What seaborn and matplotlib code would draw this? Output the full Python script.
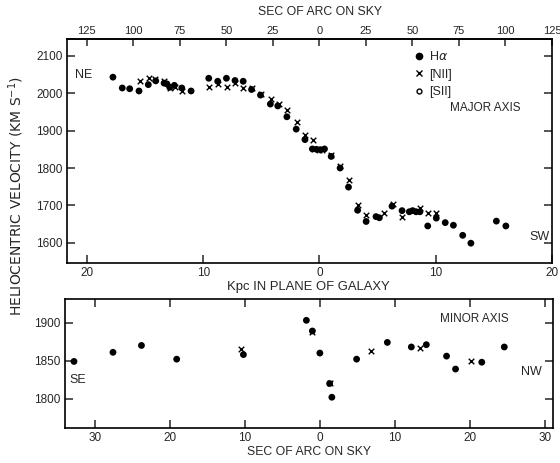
import numpy as np
import pandas as pd
import matplotlib
matplotlib.use("Agg")
import matplotlib.pyplot as plt
from matplotlib.lines import Line2D
import seaborn as sns

# major axis, position in sec of arc on sky (NE negative), velocity in km/s
maj_ha_arc = [-111, -106, -102, -97, -92, -88, -83.5, -82, -80.5, -78, -74, -69,
              -59.5, -54.7, -50, -45.4, -41, -36.5, -31.7, -26.4, -22.4, -17.5, -12.5,
              -7.8, -3.8, -1.6, 0.5, 2.7, 6.3, 11.1, 15.6, 20.5, 25.1, 30.4, 32.2, 39.0,
              44.4, 48.3, 50.1, 52.0, 54.0, 58.2, 62.8, 67.6, 72.0, 77.0, 81.4, 95.1, 100.2]
maj_ha_vel = [2043, 2014, 2012, 2006, 2023, 2033, 2027, 2025, 2016, 2021, 2014, 2006,
              2040, 2032, 2040, 2034, 2032, 2010, 1995, 1971, 1966, 1937, 1904,
              1876, 1851, 1850, 1849, 1851, 1831, 1800, 1749, 1687, 1657, 1670, 1667, 1698,
              1686, 1683, 1686, 1683, 1683, 1645, 1666, 1654, 1647, 1620, 1599, 1658, 1645]
maj_n2_arc = [-96.6, -91.6, -88.4, -83.5, -80.5, -77.8, -73.9, -59.5, -54.7, -49.9,
              -45.4, -40.9, -36.3, -31.3, -26.3, -22.0, -17.3, -12.2, -7.7, -3.2,
              -2.7, 0.0, 1.6, 6.3, 11.1, 16.1, 20.8, 25.1, 34.9, 39.3,
              44.2, 49.9, 54.0, 58.1, 62.8]
maj_n2_vel = [2034, 2042, 2038, 2033, 2014, 2017, 2005, 2016, 2025, 2016,
              2027, 2015, 2014, 1998, 1985, 1971, 1954, 1923, 1887, 1875,
              1851, 1849, 1849, 1834, 1806, 1767, 1702, 1675, 1680, 1703,
              1670, 1686, 1692, 1679, 1679]

# minor axis (SE negative)
min_ha_arc = [-32.8, -27.6, -23.8, -19.1, -10.2, -1.8, -1.0, 0.0, 1.3, 1.6,
              4.9, 9.0, 12.2, 14.2, 16.9, 18.1, 21.6, 24.6]
min_ha_vel = [1849, 1861, 1870, 1852, 1858, 1903, 1889, 1860, 1820, 1802,
              1852, 1874, 1868, 1871, 1856, 1839, 1848, 1868]
min_n2_arc = [-10.5, -1.0, 1.3, 6.8, 13.4, 20.1]
min_n2_vel = [1865, 1888, 1821, 1863, 1867, 1849]

sec_ticks = [-125, -100, -75, -50, -25, 0, 25, 50, 75, 100, 125]
kpc_ticks = [-20, -10, 0, 10, 20]
arc_per_kpc = 6.25
maj_vel_ticks = [1600, 1700, 1800, 1900, 2000, 2100]
min_sec_ticks = [-30, -20, -10, 0, 10, 20, 30]
min_vel_ticks = [1800, 1850, 1900]

maj_ha = pd.DataFrame({"arc": maj_ha_arc, "vel": maj_ha_vel})
maj_n2 = pd.DataFrame({"arc": maj_n2_arc, "vel": maj_n2_vel})
min_ha = pd.DataFrame({"arc": min_ha_arc, "vel": min_ha_vel})
min_n2 = pd.DataFrame({"arc": min_n2_arc, "vel": min_n2_vel})

sns.set_style("ticks")
plt.rcParams['font.family'] = ['Liberation Sans', 'DejaVu Sans']
plt.rcParams['axes.linewidth'] = 1.2
plt.rcParams['axes.edgecolor'] = 'black'

W, H = 560, 463
fig = plt.figure(figsize=(5.6, 4.63), dpi=100)
ax1 = fig.add_axes([67 / W, 1 - 263 / H, 485 / W, 224 / H])
ax2 = fig.add_axes([65 / W, 1 - 427.7 / H, 488 / W, 128.7 / H])

def pos(x, y):
    return x / W, 1 - y / H

dot_kw = dict(color='black', marker='o', s=24, edgecolor='none', legend=False)
x_kw = dict(color='black', marker='x', s=16, linewidth=1.0, legend=False)

# major axis panel
sns.scatterplot(data=maj_ha, x='arc', y='vel', ax=ax1, **dot_kw)
sns.scatterplot(data=maj_n2, x='arc', y='vel', ax=ax1, **x_kw)
ax1.set_xlim(-135.7, 124.5)
ax1.set_ylim(1546, 2145)
ax1.set_xlabel('')
ax1.set_ylabel('')
ax1.set_xticks([k * arc_per_kpc for k in kpc_ticks])
ax1.set_xticklabels([str(abs(k)) for k in kpc_ticks])
ax1.set_yticks(maj_vel_ticks)
ax1.set_yticklabels([str(v) for v in maj_vel_ticks])
ax1.tick_params(direction='in', length=6, width=1.1, labelsize=8.5, pad=3,
                right=True, top=False)
top = ax1.secondary_xaxis('top')
top.set_xticks(sec_ticks)
top.set_xticklabels([str(abs(s)) for s in sec_ticks])
top.tick_params(direction='in', length=5, width=1.1, labelsize=8, pad=2)

handles = [Line2D([], [], ls='', marker='o', color='black', ms=4.5),
           Line2D([], [], ls='', marker='x', color='black', ms=4, mew=1),
           Line2D([], [], ls='', marker='o', mfc='white', mec='black', ms=3.5, mew=1)]
ax1.legend(handles, ['H$\\alpha$', '[NII]', '[SII]'], loc='upper left',
           bbox_to_anchor=((414 - 67) / 485, (263 - 50) / 224), frameon=False,
           handlelength=0.8, handletextpad=0.4, labelspacing=0.45, fontsize=9,
           borderaxespad=0, borderpad=0)

# minor axis panel
sns.scatterplot(data=min_ha, x='arc', y='vel', ax=ax2, **dot_kw)
sns.scatterplot(data=min_n2, x='arc', y='vel', ax=ax2, **x_kw)
ax2.set_xlim(-34, 31.1)
ax2.set_ylim(1762, 1931)
ax2.set_xlabel('')
ax2.set_ylabel('')
ax2.set_xticks(min_sec_ticks)
ax2.set_xticklabels([str(abs(s)) for s in min_sec_ticks])
ax2.set_yticks(min_vel_ticks)
ax2.set_yticklabels([str(v) for v in min_vel_ticks])
ax2.tick_params(direction='in', length=6, width=1.1, labelsize=8.5, pad=3,
                right=True, top=True, labeltop=False)

# labels and annotations
fig.text(*pos(320, 12), 'SEC OF ARC ON SKY', ha='center', va='center', fontsize=8.8)
fig.text(*pos(308, 287), 'Kpc IN PLANE OF GALAXY', ha='center', va='center', fontsize=9.4)
fig.text(*pos(309, 452), 'SEC OF ARC ON SKY', ha='center', va='center', fontsize=8.8)
fig.text(*pos(16, 196), 'HELIOCENTRIC VELOCITY (KM S$^{-1}$)', rotation=90,
         ha='center', va='center', fontsize=10, family='DejaVu Sans')
fig.text(*pos(75, 75), 'NE', ha='left', va='center', fontsize=9)
fig.text(*pos(485, 108), 'MAJOR AXIS', ha='center', va='center', fontsize=8.5)
fig.text(*pos(550, 237), 'SW', ha='right', va='center', fontsize=9)
fig.text(*pos(474, 319), 'MINOR AXIS', ha='center', va='center', fontsize=8.5)
fig.text(*pos(69, 380), 'SE', ha='left', va='center', fontsize=9)
fig.text(*pos(531, 372), 'NW', ha='center', va='center', fontsize=9)

plt.savefig('out.png', dpi=100)
plt.close()
